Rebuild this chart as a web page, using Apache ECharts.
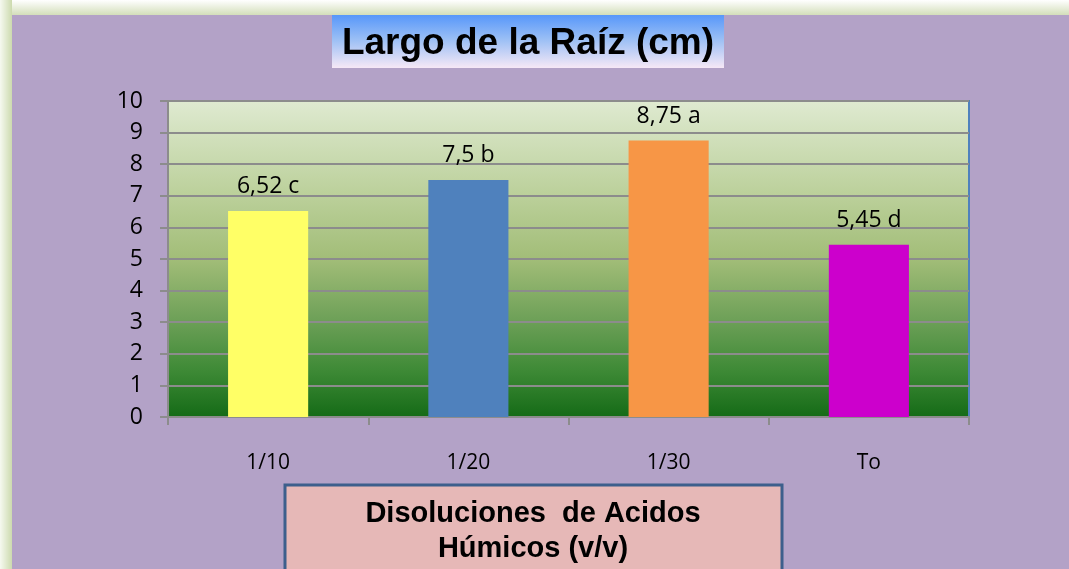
<!DOCTYPE html>
<html>
<head>
<meta charset="utf-8">
<script src="https://cdn.jsdelivr.net/npm/echarts@6/dist/echarts.min.js"></script>
<style>
html,body{margin:0;padding:0;background:#fff;}
#c{width:1069px;height:569px;}
</style>
</head>
<body>
<div id="c"></div>
<script>
var categories = ['1/10', '1/20', '1/30', 'To'];
var values = [6.52, 7.5, 8.75, 5.45];
var letters = ['c', 'b', 'a', 'd'];
var barColors = ['#FFFF66', '#4F81BD', '#F79646', '#CC00CC'];
var yMin = 0, yMax = 10, yStep = 1;
var titleText = 'Largo de la Raíz (cm)';
var xTitleLines = ['Disoluciones  de Acidos', 'Húmicos (v/v)'];

var chart = echarts.init(document.getElementById('c'), null, {renderer: 'canvas'});
var lin = function (x, y, x2, y2, stops) {
  return new echarts.graphic.LinearGradient(x, y, x2, y2, stops);
};
var boldFont = '"Liberation Sans", Arial, sans-serif';
var bodyFont = '"Open Sans", Lato, sans-serif';
var option = {
  animation: false,
  backgroundColor: '#ffffff',
  graphic: [
    {type: 'rect', z: -10, silent: true, shape: {x: 0, y: 0, width: 1069, height: 15},
     style: {fill: lin(0, 0, 0, 1, [{offset: 0, color: '#FFFFFF'}, {offset: 1, color: '#D3DEBA'}])}},
    {type: 'rect', z: -10, silent: true, shape: {x: 0, y: 0, width: 12, height: 569},
     style: {fill: lin(0, 0, 1, 0, [{offset: 0, color: '#F6F9F0'}, {offset: 1, color: '#CCDAAE'}])}},
    {type: 'rect', z: -9, silent: true, shape: {x: 12, y: 15, width: 1057, height: 554},
     style: {fill: '#B3A2C7'}},
    {type: 'rect', z: 10, silent: true, shape: {x: 332, y: 15, width: 392, height: 53},
     style: {fill: lin(0, 0, 0, 1, [{offset: 0, color: '#5797FA'}, {offset: 0.45, color: '#99BEF5'}, {offset: 1, color: '#F6E8F6'}])}},
    {type: 'text', z: 11, silent: true, x: 528, y: 44,
     style: {text: titleText, fill: '#000', fontSize: 37, fontWeight: 'bold', fontFamily: boldFont, align: 'center', verticalAlign: 'middle'}},
    {type: 'rect', z: 10, silent: true, shape: {x: 285, y: 485, width: 497, height: 92},
     style: {fill: '#E6B8B7', stroke: '#3D5F8C', lineWidth: 3}},
    {type: 'text', z: 11, silent: true, x: 533, y: 514,
     style: {text: xTitleLines[0], fill: '#000', fontSize: 29, fontWeight: 'bold', fontFamily: boldFont, align: 'center', verticalAlign: 'middle'}},
    {type: 'text', z: 11, silent: true, x: 533, y: 549,
     style: {text: xTitleLines[1], fill: '#000', fontSize: 29, fontWeight: 'bold', fontFamily: boldFont, align: 'center', verticalAlign: 'middle'}}
  ],
  grid: {
    left: 168, right: 100, top: 101, bottom: 152,
    show: true,
    borderColor: '#4F81BD', borderWidth: 2,
    backgroundColor: lin(0, 0, 0, 1, [
      {offset: 0, color: '#DFEAD1'},
      {offset: 0.3, color: '#BBD09A'},
      {offset: 0.5, color: '#A2BD78'},
      {offset: 0.7, color: '#6B9F56'},
      {offset: 0.85, color: '#3E8A36'},
      {offset: 1, color: '#146A16'}
    ])
  },
  xAxis: {
    type: 'category',
    data: categories,
    axisLine: {show: true, lineStyle: {color: '#8C8C8C', width: 2}},
    axisTick: {show: true, alignWithLabel: false, length: 8, lineStyle: {color: '#8C8C8C', width: 2}},
    axisLabel: {margin: 36, color: '#000', fontSize: 21, fontFamily: bodyFont},
    splitLine: {show: false}
  },
  yAxis: {
    type: 'value',
    min: yMin, max: yMax, interval: yStep,
    axisLine: {show: true, lineStyle: {color: '#8C8C8C', width: 2}},
    axisTick: {show: true, length: 8, lineStyle: {color: '#8C8C8C', width: 2}},
    axisLabel: {margin: 25, color: '#000', fontSize: 23, fontFamily: bodyFont},
    splitLine: {show: true, lineStyle: {color: '#8C8C8C', width: 2}}
  },
  series: [{
    type: 'bar',
    barWidth: '40%',
    z: 3,
    data: values.map(function (v, i) {
      return {value: v, itemStyle: {color: barColors[i]}};
    }),
    label: {
      show: true, position: 'top', distance: 13,
      color: '#000', fontSize: 23, fontFamily: bodyFont,
      formatter: function (p) {
        return String(p.value).replace('.', ',') + ' ' + letters[p.dataIndex];
      }
    }
  }]
};
chart.setOption(option);
</script>
</body>
</html>
